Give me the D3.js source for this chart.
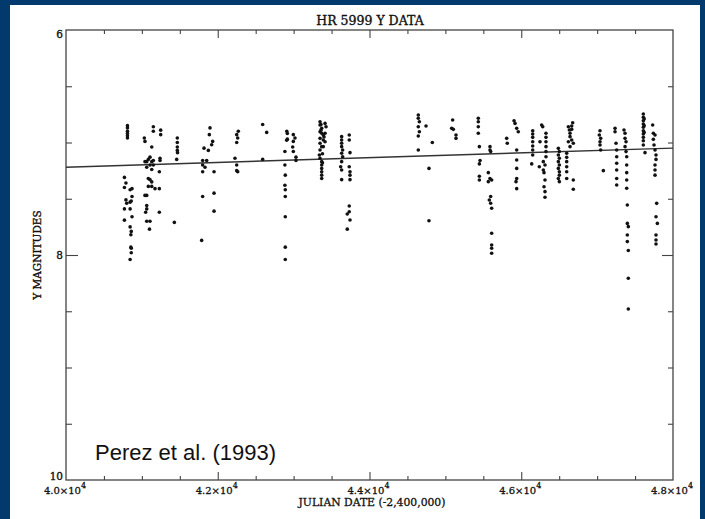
<!DOCTYPE html>
<html>
<head>
<meta charset="utf-8">
<script src="https://cdn.jsdelivr.net/npm/d3@7"></script>
<style>
  html, body { margin: 0; padding: 0; background: #033a6d; }
  svg { display: block; }
</style>
</head>
<body>
<script>
// ---------- DATA ----------
const chartTitle = "HR 5999 Y DATA";
const xTitle = "JULIAN DATE (-2,400,000)";
const yTitle = "Y MAGNITUDES";
const credit = "Perez et al. (1993)";

const xTickValues = [40000, 42000, 44000, 46000, 48000];
const xTickLabels = ["4.0×10", "4.2×10", "4.4×10", "4.6×10", "4.8×10"];
const xTickExponent = "4";
const yTickValues = [6, 8, 10];
const yTickLabels = ["6", "8", "10"];

// linear fit
const fitJD = [40000, 48000];
const fitMag = [7.22, 7.05];

// observations [Julian date - 2,400,000, y magnitude]
const observations = [
  [40810,6.85],[40810,6.87],[40810,6.90],[40810,6.92],[40810,6.94],[40810,6.96],
  [40770,7.31],[40790,7.36],[40770,7.40],[40845,7.42],[40870,7.41],[40870,7.48],[40790,7.51],[40800,7.54],[40845,7.53],[40860,7.52],[40770,7.59],[40845,7.59],[40870,7.66],[40770,7.69],[40845,7.75],[40860,7.79],[40855,7.82],[40855,7.93],[40860,7.94],[40860,7.98],[40845,8.04],
  [41032,6.96],[41041,6.99],[41151,6.86],[41151,6.90],[41248,6.89],[41248,6.93],[41130,7.04],[41107,7.13],[41085,7.15],[41041,7.17],[41064,7.17],[41130,7.17],[41151,7.16],[41239,7.14],[41239,7.16],[41107,7.20],[41151,7.20],[41064,7.22],[41130,7.24],[41230,7.26],[41085,7.32],[41107,7.33],[41130,7.35],[41085,7.39],[41130,7.39],[41173,7.41],[41230,7.41],[41041,7.47],[41064,7.47],[41064,7.56],[41064,7.59],[41050,7.62],[41230,7.62],[41064,7.70],[41107,7.70],[41100,7.77],
  [41467,6.96],[41467,7.00],[41467,7.04],[41467,7.07],[41470,7.09],[41459,7.15],[41428,7.71],
  [41898,6.87],[41889,6.93],[41933,6.99],[41920,7.02],[41819,7.05],[41876,7.07],[41801,7.16],[41854,7.16],[41801,7.20],[41832,7.22],[41801,7.26],[41951,7.26],[41801,7.48],[41951,7.45],[41951,7.61],[41788,7.87],
  [42271,6.90],[42250,6.93],[42263,6.96],[42250,7.00],[42227,7.14],[42250,7.20],[42250,7.25],[42263,7.26],
  [42592,6.84],[42645,6.91],[42592,7.15],
  [42885,7.08],[42885,7.20],[42890,7.29],[42885,7.38],[42890,7.42],[42890,7.48],[42890,7.66],[42890,7.93],[42890,8.04],
  [42910,6.90],[42917,6.92],[42917,6.97],[42909,6.98],
  [42996,6.93],[43018,6.96],[42996,6.99],[42988,7.04],[42996,7.08],[43031,7.13],[43031,7.16],
  [43348,6.815],[43414,6.83],[43348,6.844],[43427,6.86],[43370,6.874],[43348,6.904],[43370,6.918],[43414,6.918],[43391,6.933],[43348,6.963],[43391,6.978],[43414,6.993],[43348,7.007],[43370,7.037],[43391,7.037],[43348,7.067],[43339,7.111],[43348,7.14],[43370,7.17],[43370,7.20],[43370,7.23],[43370,7.26],[43370,7.29],[43370,7.32],[43360,6.84],[43360,6.89],[43380,7.10],[43380,7.18],[43400,6.95],
  [43633,6.948],[43633,6.978],[43633,7.007],[43633,7.037],[43646,7.067],[43633,7.096],[43646,7.126],[43633,7.17],[43620,7.215],[43633,7.244],[43633,7.33],[43733,6.933],[43733,6.978],[43743,7.09],[43733,7.215],[43743,7.26],[43743,7.29],[43743,7.33],[43733,7.564],[43733,7.615],[43707,7.636],[43743,7.689],[43707,7.77],
  [44643,6.756],[44643,6.785],[44657,6.815],[44643,6.86],[44657,6.904],[44643,6.942],[44745,6.853],[44828,7.0],[44643,7.067],[44784,7.23],[44784,7.695],
  [45096,6.80],[45083,6.874],[45105,6.883],[45140,6.933],[45140,6.963],
  [45434,6.785],[45434,6.815],[45434,6.86],[45434,6.918],[45448,7.037],[45457,7.16],[45448,7.19],[45448,7.30],[45448,7.333],
  [45588,7.037],[45588,7.067],[45597,7.081],[45566,7.268],[45588,7.32],[45610,7.333],[45566,7.348],[45597,7.48],[45579,7.511],[45597,7.54],[45610,7.585],[45610,7.807],[45610,7.911],[45610,7.94],[45610,7.985],
  [45808,6.963],[45816,7.007],
  [45905,6.806],[45918,6.83],[45940,6.874],[45961,6.904],[45940,7.067],[45940,7.156],[45940,7.23],[45940,7.32],[45931,7.348],[45940,7.41],
  [46151,6.895],[46151,6.924],[46151,6.954],[46151,6.993],[46151,7.031],[46151,7.067],[46151,7.111],[46138,7.19],[46247,6.993],[46269,6.844],[46283,6.86],[46326,6.918],[46326,6.954],[46326,6.993],[46326,7.037],[46326,7.081],[46326,7.126],[46291,7.17],[46313,7.20],[46238,7.215],[46291,7.244],[46300,7.268],[46313,7.333],[46300,7.393],[46313,7.437],[46313,7.487],
  [46489,7.052],[46502,7.081],[46489,7.111],[46502,7.14],[46489,7.17],[46502,7.20],[46489,7.23],[46502,7.26],[46502,7.29],[46489,7.32],[46502,7.348],[46599,7.096],[46599,7.132],[46599,7.17],[46599,7.215],[46599,7.26],[46599,7.32],[46621,6.86],[46634,6.889],[46643,6.918],[46665,6.883],[46678,6.824],[46665,6.853],[46643,6.948],[46665,6.978],[46686,7.007],[46621,6.993],[46643,7.037],[46686,7.333],[46686,7.416],
  [47029,6.933],[47038,6.895],[47047,6.963],[47038,6.993],[47038,7.022],[47047,7.067],[47082,7.25],
  [47236,6.874],[47236,6.904],[47249,7.007],[47258,7.067],[47258,7.126],[47258,7.185],[47258,7.244],[47258,7.32],[47258,7.378],[47354,6.889],[47368,6.918],[47368,6.963],[47381,6.993],[47368,7.037],[47381,7.081],[47390,7.126],[47390,7.20],[47390,7.268],[47390,7.333],[47390,7.407],[47398,7.556],[47398,7.719],[47411,7.748],[47398,7.822],[47398,7.881],[47411,7.96],[47411,8.207],[47411,8.48],
  [47609,6.747],[47609,6.776],[47609,6.806],[47609,6.836],[47609,6.865],[47609,6.895],[47609,6.924],[47609,6.954],[47609,6.984],[47609,7.022],[47631,7.09],[47620,6.79],[47620,6.85],[47620,6.91],
  [47732,6.844],[47741,6.918],[47763,6.933],[47741,6.972],[47750,7.022],[47763,7.067],[47776,7.111],[47776,7.15],[47763,7.20],[47763,7.244],[47763,7.29],[47785,7.541],[47776,7.66],[47794,7.719],[47776,7.822],[47776,7.867],[47776,7.902]
];

// ---------- LAYOUT ----------
const W = 705, H = 519;
const frame = { left: 66, right: 673, top: 30, bottom: 480 };
const serif = "'DejaVu Serif', serif";
const ink = "#111";

const svg = d3.select("body").append("svg").attr("width", W).attr("height", H);

svg.append("rect").attr("x", 0).attr("y", 0).attr("width", W).attr("height", H).attr("fill", "#033a6d");
svg.append("rect").attr("x", 10).attr("y", 5).attr("width", 690).attr("height", H - 5).attr("fill", "#ffffff");

const x = d3.scaleLinear().domain([40000, 48000]).range([frame.left, frame.right]);
const y = d3.scaleLinear().domain([6, 10]).range([frame.top, frame.bottom]);

// minor / major tick sets
const xMinor = d3.range(40500, 48000, 500).filter(v => v % 2000 !== 0);
const xMajor = xTickValues.slice(1, -1);
const yMinor = d3.range(6.5, 10, 0.5).filter(v => v !== 8);
const yMajor = [8];

function styleAxis(g) {
  g.select(".domain").remove();
  g.selectAll(".tick line").attr("stroke", "#444").attr("stroke-width", 1.1);
  g.selectAll(".tick text").remove();
}

const axG = svg.append("g");
axG.append("g").attr("transform", `translate(0,${frame.bottom})`)
  .call(d3.axisBottom(x).tickValues(xMinor).tickSizeInner(-4).tickSizeOuter(0)).call(styleAxis);
axG.append("g").attr("transform", `translate(0,${frame.bottom})`)
  .call(d3.axisBottom(x).tickValues(xMajor).tickSizeInner(-8).tickSizeOuter(0)).call(styleAxis);
axG.append("g").attr("transform", `translate(0,${frame.top})`)
  .call(d3.axisTop(x).tickValues(xMinor).tickSizeInner(-4).tickSizeOuter(0)).call(styleAxis);
axG.append("g").attr("transform", `translate(0,${frame.top})`)
  .call(d3.axisTop(x).tickValues(xMajor).tickSizeInner(-8).tickSizeOuter(0)).call(styleAxis);
axG.append("g").attr("transform", `translate(${frame.left},0)`)
  .call(d3.axisLeft(y).tickValues(yMinor).tickSizeInner(-6).tickSizeOuter(0)).call(styleAxis);
axG.append("g").attr("transform", `translate(${frame.left},0)`)
  .call(d3.axisLeft(y).tickValues(yMajor).tickSizeInner(-12).tickSizeOuter(0)).call(styleAxis);
axG.append("g").attr("transform", `translate(${frame.right},0)`)
  .call(d3.axisRight(y).tickValues(yMinor).tickSizeInner(-5).tickSizeOuter(0)).call(styleAxis);
axG.append("g").attr("transform", `translate(${frame.right},0)`)
  .call(d3.axisRight(y).tickValues(yMajor).tickSizeInner(-11).tickSizeOuter(0)).call(styleAxis);

// frame
svg.append("rect")
  .attr("x", frame.left).attr("y", frame.top)
  .attr("width", frame.right - frame.left).attr("height", frame.bottom - frame.top)
  .attr("fill", "none").attr("stroke", "#444").attr("stroke-width", 1.3);

// y tick labels
svg.append("g").selectAll("text").data(yTickValues).join("text")
  .attr("x", frame.left - 3)
  .attr("y", v => Math.min(Math.max(y(v) + 3.5, frame.top + 8), frame.bottom))
  .attr("text-anchor", "end")
  .attr("font-family", serif).attr("font-size", 10.5).attr("fill", ink)
  .attr("stroke", ink).attr("stroke-width", 0.35)
  .text((v, i) => yTickLabels[i]);

// x tick labels with superscript
const xl = svg.append("g").selectAll("text").data(xTickValues).join("text")
  .attr("x", v => x(v) - 1)
  .attr("y", 494)
  .attr("text-anchor", "middle")
  .attr("font-family", serif).attr("font-size", 10).attr("fill", ink)
  .attr("stroke", ink).attr("stroke-width", 0.3);
xl.append("tspan").text((v, i) => xTickLabels[i]);
xl.append("tspan").attr("dy", -6).attr("font-size", 8).text(xTickExponent);

// titles
svg.append("text").attr("x", 370).attr("y", 25).attr("text-anchor", "middle")
  .attr("font-family", serif).attr("font-size", 12.5).attr("fill", ink)
  .attr("stroke", ink).attr("stroke-width", 0.35).text(chartTitle);
svg.append("text").attr("x", 372).attr("y", 506).attr("text-anchor", "middle")
  .attr("font-family", serif).attr("font-size", 10.8).attr("fill", ink)
  .attr("stroke", ink).attr("stroke-width", 0.3).text(xTitle);
svg.append("text").attr("transform", "translate(41,255) rotate(-90)").attr("text-anchor", "middle")
  .attr("font-family", serif).attr("font-size", 10.5).attr("fill", ink)
  .attr("stroke", ink).attr("stroke-width", 0.35).text(yTitle);

// fit line
svg.append("path")
  .datum(fitJD.map((d, i) => [d, fitMag[i]]))
  .attr("d", d3.line().x(d => x(d[0])).y(d => y(d[1])))
  .attr("fill", "none").attr("stroke", "#333").attr("stroke-width", 1.5);

// points
svg.append("g").selectAll("circle").data(observations).join("circle")
  .attr("cx", d => x(d[0])).attr("cy", d => y(d[1]))
  .attr("r", 1.8).attr("fill", ink);

// credit
svg.append("text").attr("x", 95).attr("y", 460)
  .attr("font-family", "'Liberation Sans', Arial, sans-serif").attr("font-size", 22)
  .attr("fill", "#111").text(credit);
</script>
</body>
</html>
